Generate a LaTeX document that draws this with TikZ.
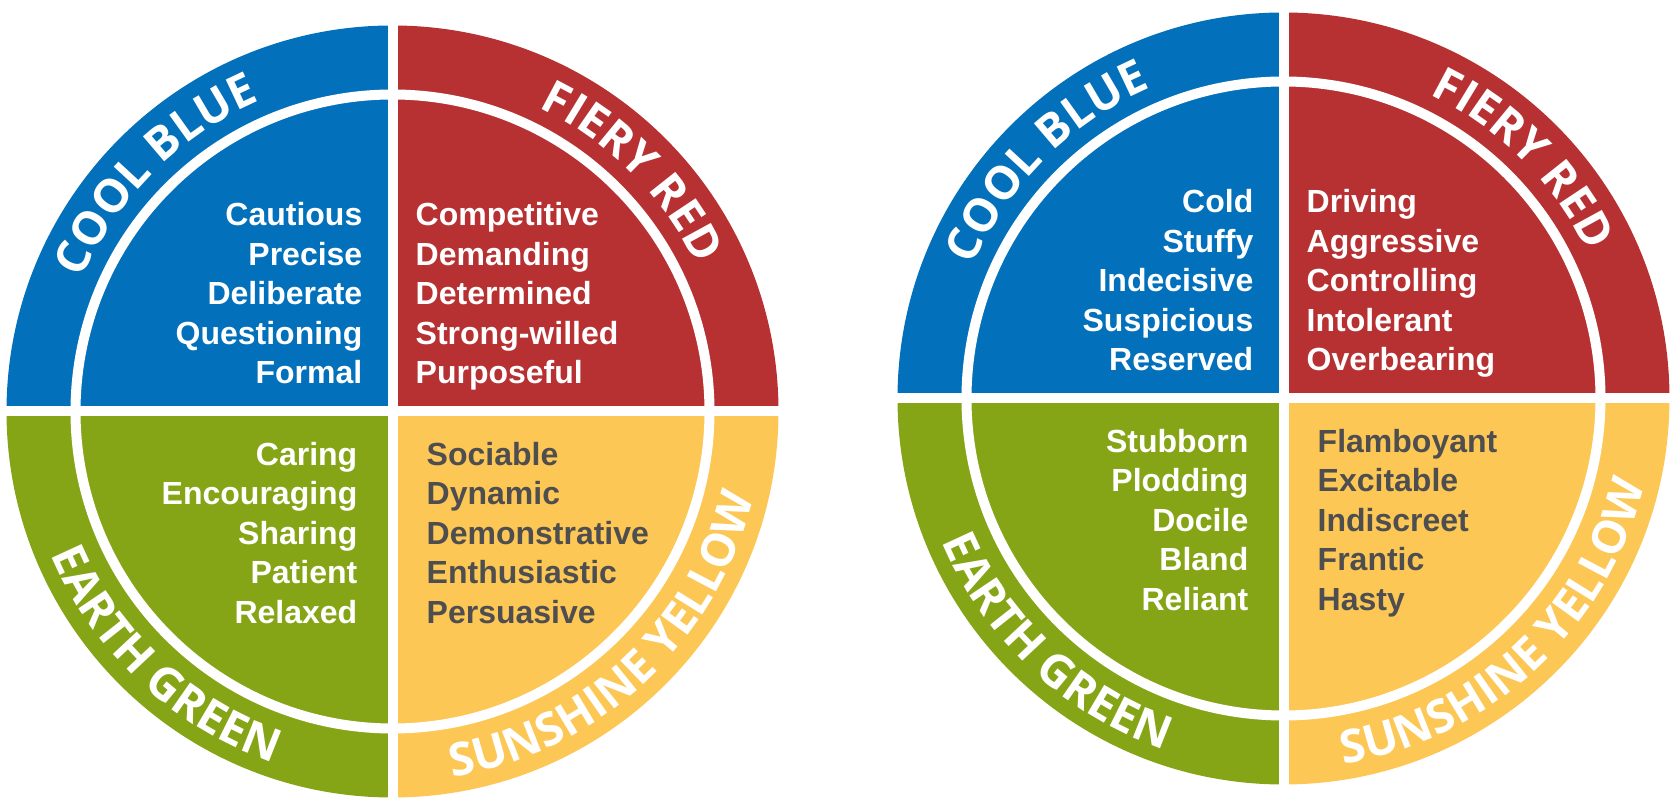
\documentclass[tikz,border=0pt]{standalone}
\usepackage{fontspec}
\usepackage{tikz}
\usetikzlibrary{decorations.text}
\setmainfont{Liberation Sans}
\newfontfamily\bandfont{Open Sans}
\definecolor{coolblue}{RGB}{2,112,186}
\definecolor{fieryred}{RGB}{183,49,51}
\definecolor{earthgreen}{RGB}{134,165,22}
\definecolor{sunyellow}{RGB}{252,199,84}
\definecolor{traitgray}{RGB}{78,78,80}
\newcommand{\bandLabel}{\bandfont\bfseries\fontsize{46}{46}\selectfont\color{white}}
\newcommand{\colorWheel}[6]{%
\coordinate (#1) at (#2);
\fill[coolblue] (#1) -- ++(90:386) arc[start angle=90, end angle=180, radius=386] -- cycle;
\fill[fieryred] (#1) -- ++(0:386) arc[start angle=0, end angle=90, radius=386] -- cycle;
\fill[earthgreen] (#1) -- ++(180:386) arc[start angle=180, end angle=270, radius=386] -- cycle;
\fill[sunyellow] (#1) -- ++(270:386) arc[start angle=270, end angle=360, radius=386] -- cycle;
\draw[divider] (#1) circle[radius=317];
\draw[divider] ([xshift=-390pt]#1) -- ([xshift=390pt]#1);
\draw[divider] ([yshift=-390pt]#1) -- ([yshift=390pt]#1);
\path[band={COOL BLUE}] ([shift={(178:337.5)}]#1) arc[start angle=178, end angle=92, radius=337.5];
\path[band={FIERY RED}] ([shift={(88:337.5)}]#1) arc[start angle=88, end angle=2, radius=337.5];
\path[band={EARTH GREEN}] ([shift={(184:370.5)}]#1) arc[start angle=184, end angle=270, radius=370.5];
\path[band={SUNSHINE YELLOW}] ([shift={(270:370.5)}]#1) arc[start angle=270, end angle=356, radius=370.5];
\node[traits=right, text=white, anchor=base east] (#1-blue) at ([shift={(-30,27.5)}]#1) {#3};
\node[traits=left, text=white, anchor=base west] (#1-red) at ([shift={(23,27.5)}]#1) {#4};
\node[traits=right, text=white, anchor=base east] (#1-green) at ([shift={(-35,-212)}]#1) {#5};
\node[traits=left, text=traitgray, anchor=base west] (#1-yellow) at ([shift={(34,-212)}]#1) {#6};
}
\tikzset{
  traits/.style={font=\bfseries\fontsize{32}{39.5}\selectfont, inner sep=0pt, align=#1},
  divider/.style={white, line width=10pt},
  band/.style={decorate, decoration={text along path, text align=center, text={|\bandLabel|#1}}},
}

\begin{document}
\begin{tikzpicture}[x=1pt, y=1pt]
\useasboundingbox (0,0) rectangle (1674,805);
\colorWheel{strengths}{392.5,393.5}%
  {Cautious\\Precise\\Deliberate\\Questioning\\Formal}%
  {Competitive\\Demanding\\Determined\\Strong-willed\\Purposeful}%
  {Caring\\Encouraging\\Sharing\\Patient\\Relaxed}%
  {Sociable\\Dynamic\\Demonstrative\\Enthusiastic\\Persuasive}
\colorWheel{weaknesses}{1283.5,406.5}%
  {Cold\\Stuffy\\Indecisive\\Suspicious\\Reserved}%
  {Driving\\Aggressive\\Controlling\\Intolerant\\Overbearing}%
  {Stubborn\\Plodding\\Docile\\Bland\\Reliant}%
  {Flamboyant\\Excitable\\Indiscreet\\Frantic\\Hasty}
\end{tikzpicture}
\end{document}
